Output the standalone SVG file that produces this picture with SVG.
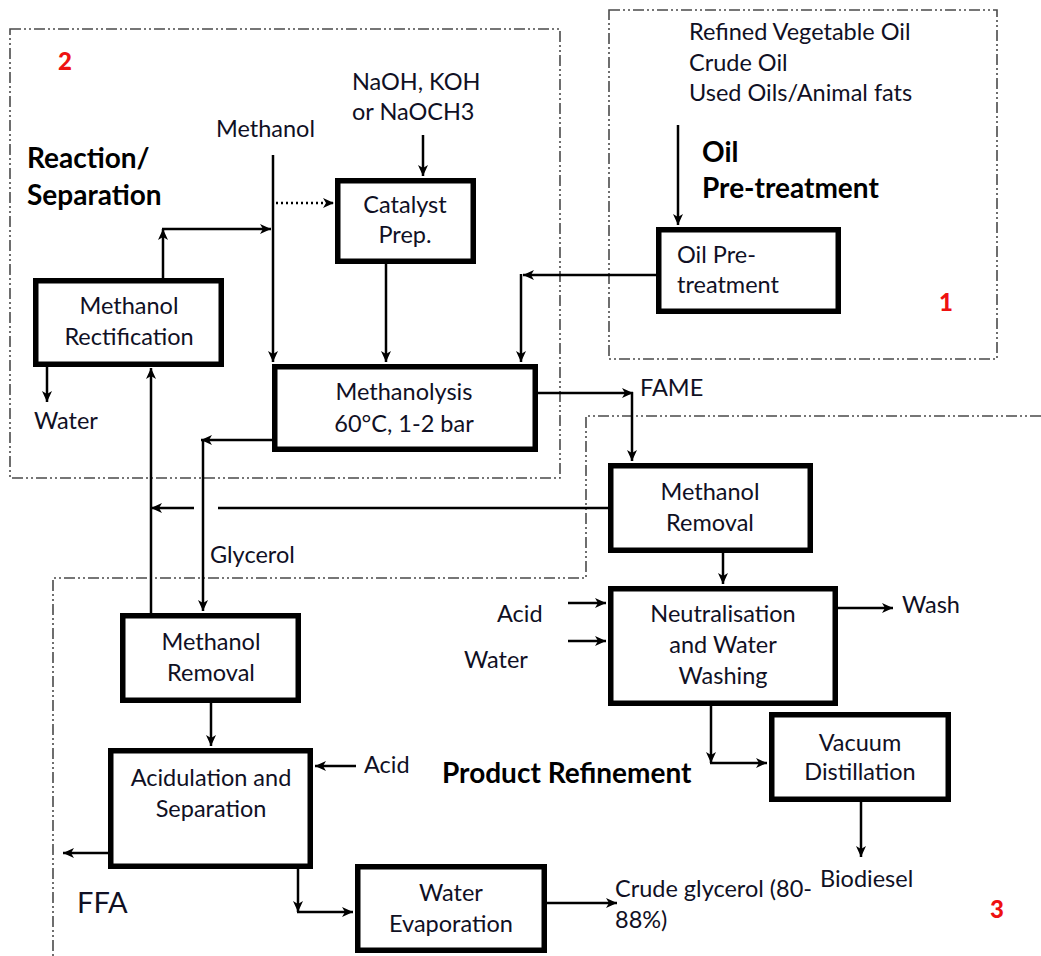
<svg xmlns="http://www.w3.org/2000/svg" width="1041" height="956" viewBox="0 0 1041 956">
<style>
.frame{fill:none;stroke:#4a4a4a;stroke-width:1.6;stroke-dasharray:11 3 2 3 2 3}
.box{fill:#fff;stroke:#000;stroke-width:5.5}
.c{fill:none;stroke:#000;stroke-width:2.5}
.dot{stroke-dasharray:2 3}
text{font-family:Lato,"Open Sans","Liberation Sans",sans-serif;fill:#101024}
.t{font-size:23.5px}
.m{text-anchor:middle}
.h{font-size:28px;font-weight:bold;fill:#000}
.num{font-size:24px;font-weight:900;fill:#ee1111}
.ffa{font-size:29px;font-weight:normal}
</style>
<defs>
<marker id="ah" viewBox="0 0 11 10" refX="11" refY="5" markerWidth="11" markerHeight="10" markerUnits="userSpaceOnUse" orient="auto"><path d="M0,0 L11,5 L0,10 L3,5 z" fill="#000"/></marker>
</defs>
<rect width="1041" height="956" fill="#fff"/>
<g id="regions">
<rect class="frame" x="609" y="10" width="388" height="349"/>
<rect class="frame" x="10" y="29" width="550" height="449"/>
<path class="frame" d="M1041,416 H586 V578 H53 V956"/>
</g>
<g id="connectors">
<path class="c" d="M273,155 V362" marker-end="url(#ah)"/>
<path class="c dot" d="M276,203 H334" marker-end="url(#ah)"/>
<path class="c" d="M423,135 V176" marker-end="url(#ah)"/>
<path class="c" d="M386,264 V362" marker-end="url(#ah)"/>
<path class="c" d="M163,278 V229" marker-end="url(#ah)"/>
<path class="c" d="M162,229 H271" marker-end="url(#ah)"/>
<path class="c" d="M47,367 V402" marker-end="url(#ah)"/>
<path class="c" d="M151,613 V368" marker-end="url(#ah)"/>
<path class="c" d="M608,508 H218"/>
<path class="c" d="M194,508 H151" marker-end="url(#ah)"/>
<path class="c" d="M272,440 H201" marker-end="url(#ah)"/>
<path class="c" d="M203,439 V611" marker-end="url(#ah)"/>
<path class="c" d="M656,275 H523" marker-end="url(#ah)"/>
<path class="c" d="M521,274 V362" marker-end="url(#ah)"/>
<path class="c" d="M678,125 V225" marker-end="url(#ah)"/>
<path class="c" d="M538,393 H633" marker-end="url(#ah)"/>
<path class="c" d="M632,392 V461" marker-end="url(#ah)"/>
<path class="c" d="M723,553 V584" marker-end="url(#ah)"/>
<path class="c" d="M568,603 H606" marker-end="url(#ah)"/>
<path class="c" d="M568,641 H606" marker-end="url(#ah)"/>
<path class="c" d="M838,608 H893" marker-end="url(#ah)"/>
<path class="c" d="M711,706 V763" marker-end="url(#ah)"/>
<path class="c" d="M710,763 H767" marker-end="url(#ah)"/>
<path class="c" d="M861,802 V857" marker-end="url(#ah)"/>
<path class="c" d="M211,703 V746" marker-end="url(#ah)"/>
<path class="c" d="M356,766 H315" marker-end="url(#ah)"/>
<path class="c" d="M108,853 H63" marker-end="url(#ah)"/>
<path class="c" d="M298,869 V912" marker-end="url(#ah)"/>
<path class="c" d="M297,912 H353" marker-end="url(#ah)"/>
<path class="c" d="M547,903 H617" marker-end="url(#ah)"/>
</g>
<g id="catalyst-prep">
<rect class="box" x="337.75" y="180.75" width="135.5" height="80.5"/>
<text class="t m" x="405" y="213">Catalyst</text>
<text class="t m" x="405" y="243">Prep.</text>
</g>
<g id="methanol-rectification">
<rect class="box" x="35.75" y="280.75" width="185.5" height="83.5"/>
<text class="t m" x="129" y="314">Methanol</text>
<text class="t m" x="129" y="345">Rectification</text>
</g>
<g id="methanolysis">
<rect class="box" x="274.75" y="366.75" width="260.5" height="82.5"/>
<text class="t m" x="404" y="400">Methanolysis</text>
<text class="t m" x="404" y="432">60°C, 1-2 bar</text>
</g>
<g id="oil-pretreatment">
<rect class="box" x="658.75" y="229.75" width="179.5" height="81.5"/>
<text class="t" x="677" y="263">Oil Pre-</text>
<text class="t" x="677" y="293">treatment</text>
</g>
<g id="methanol-removal-fame">
<rect class="box" x="610.75" y="465.75" width="199.5" height="84.5"/>
<text class="t m" x="710" y="500">Methanol</text>
<text class="t m" x="710" y="531">Removal</text>
</g>
<g id="neutralisation">
<rect class="box" x="610.75" y="588.75" width="224.5" height="114.5"/>
<text class="t m" x="723" y="622">Neutralisation</text>
<text class="t m" x="723" y="653">and Water</text>
<text class="t m" x="723" y="684">Washing</text>
</g>
<g id="vacuum-distillation">
<rect class="box" x="771.75" y="714.75" width="176.5" height="84.5"/>
<text class="t m" x="860" y="751">Vacuum</text>
<text class="t m" x="860" y="780">Distillation</text>
</g>
<g id="methanol-removal-glycerol">
<rect class="box" x="122.75" y="615.75" width="175.5" height="84.5"/>
<text class="t m" x="211" y="650">Methanol</text>
<text class="t m" x="211" y="681">Removal</text>
</g>
<g id="acidulation">
<rect class="box" x="110.75" y="750.75" width="199.5" height="115.5"/>
<text class="t m" x="211" y="786">Acidulation and</text>
<text class="t m" x="211" y="817">Separation</text>
</g>
<g id="water-evaporation">
<rect class="box" x="357.75" y="866.75" width="186.5" height="83.5"/>
<text class="t m" x="451" y="901">Water</text>
<text class="t m" x="451" y="932">Evaporation</text>
</g>
<g id="labels">
<text class="num" x="58" y="70">2</text>
<text class="num" x="939" y="311">1</text>
<text class="num" x="990" y="918">3</text>
<text class="h" x="27" y="168">Reaction/</text>
<text class="h" x="27" y="205">Separation</text>
<text class="h" x="702" y="162">Oil</text>
<text class="h" x="702" y="198">Pre-treatment</text>
<text class="h" x="442" y="783">Product Refinement</text>
<text class="t" x="352" y="90">NaOH, KOH</text>
<text class="t" x="352" y="120">or NaOCH3</text>
<text class="t" x="216" y="137">Methanol</text>
<text class="t" x="34" y="429">Water</text>
<text class="t" x="689" y="40">Refined Vegetable Oil</text>
<text class="t" x="689" y="71">Crude Oil</text>
<text class="t" x="689" y="101">Used Oils/Animal fats</text>
<text class="t" x="640" y="396">FAME</text>
<text class="t" x="210" y="563">Glycerol</text>
<text class="t" x="497" y="622">Acid</text>
<text class="t" x="464" y="668">Water</text>
<text class="t" x="902" y="613">Wash</text>
<text class="t" x="820" y="887">Biodiesel</text>
<text class="t" x="364" y="773">Acid</text>
<text class="ffa" x="77" y="913">FFA</text>
<text class="t" x="615" y="897">Crude glycerol (80-</text>
<text class="t" x="615" y="928">88%)</text>
</g>
</svg>
